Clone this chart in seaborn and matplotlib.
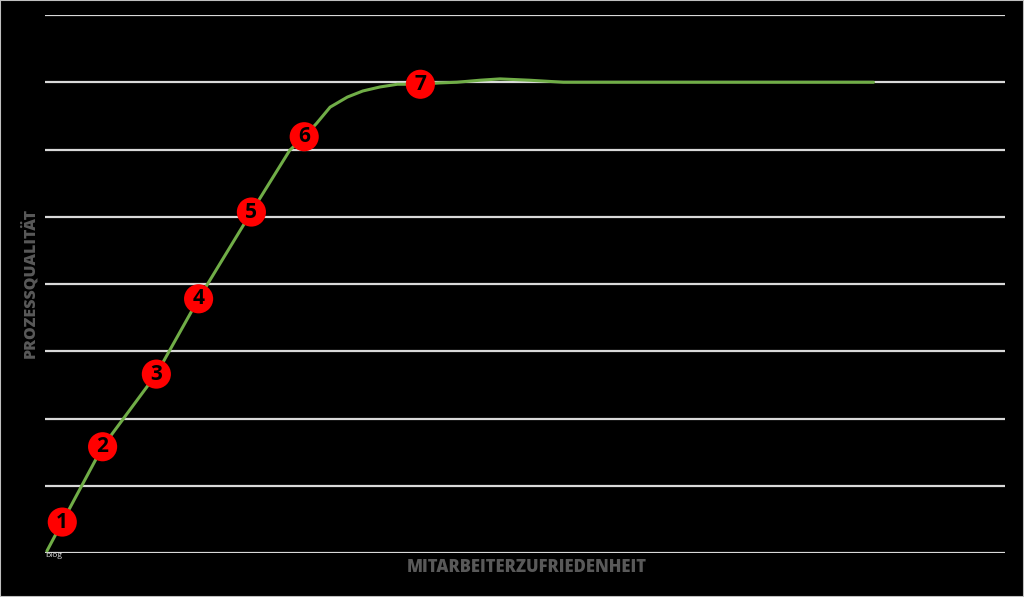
import matplotlib
matplotlib.use("Agg")
import matplotlib.pyplot as plt
import seaborn as sns
import pandas as pd
from matplotlib.patches import Rectangle

# Curve (x: satisfaction 0-10, y: quality 0-8)
curve_x = [0.02, 0.18, 0.60, 1.16, 1.60, 2.15, 2.55, 2.70, 2.83, 2.97, 3.15, 3.31, 3.49, 3.67,
           3.91, 4.11, 4.29, 4.53, 4.74, 5.05, 5.40, 5.57, 8.63]
curve_y = [0.03, 0.46, 1.58, 2.66, 3.78, 5.07, 5.99, 6.19, 6.39, 6.63, 6.78, 6.87, 6.93, 6.97,
           6.97, 6.99, 7.00, 7.03, 7.05, 7.03, 7.00, 7.00, 7.00]

# Numbered stage markers
stage_labels = ["1", "2", "3", "4", "5", "6", "7"]
stage_x = [0.18, 0.60, 1.16, 1.60, 2.15, 2.70, 3.91]
stage_y = [0.46, 1.58, 2.66, 3.78, 5.07, 6.19, 6.97]

y_ticks = [0, 1, 2, 3, 4, 5, 6, 7, 8]

sns.set_style("dark", {"axes.facecolor": "black", "figure.facecolor": "black"})
plt.rcParams['font.family'] = ['Open Sans', 'DejaVu Sans']

fig = plt.figure(figsize=(10.24, 5.97), dpi=100)
ax = fig.add_axes([45/1024, 44/597, 960/1024, 538/597])
ax.set_facecolor("black")

for yv in y_ticks:
    ax.axhline(yv, color="#d9d9d9", lw=1.6, zorder=1)

df_curve = pd.DataFrame({"x": curve_x, "y": curve_y})
sns.lineplot(data=df_curve, x="x", y="y", ax=ax, color="#70ad47", lw=2.2, sort=False,
             zorder=2, solid_joinstyle="round")

df_st = pd.DataFrame({"x": stage_x, "y": stage_y, "label": stage_labels})
sns.scatterplot(data=df_st, x="x", y="y", ax=ax, s=440, color="#ff0000", edgecolor="none", zorder=3)
for xv, yv, lab in zip(stage_x, stage_y, stage_labels):
    ax.text(xv, yv, lab, ha="center", va="center", fontsize=15, fontweight="bold",
            color="black", zorder=4)

ax.set_xlim(0, 10)
ax.set_ylim(0, 8)
ax.set_xticks([])
ax.set_yticks([])
ax.set_xlabel("")
ax.set_ylabel("")
for s in ax.spines.values():
    s.set_visible(False)

ax.text(0.0, -0.04, "blog", fontsize=6, color="#e0e0e0", ha="left", va="center", zorder=5)

fig.text(527/1024, 1 - 568/597, "MITARBEITERZUFRIEDENHEIT", ha="center", va="center",
         fontsize=12, fontweight="heavy", color="#595959")
fig.text(30/1024, 1 - 283/597, "PROZESSQUALITÄT", ha="center", va="center", rotation=90,
         fontsize=11.5, fontweight="heavy", color="#595959")

fig.patches.append(Rectangle((0, 0), 1, 1, transform=fig.transFigure, fill=False,
                             edgecolor="#bfbfbf", lw=1.5))

fig.savefig("out.png", dpi=100, facecolor="black")
